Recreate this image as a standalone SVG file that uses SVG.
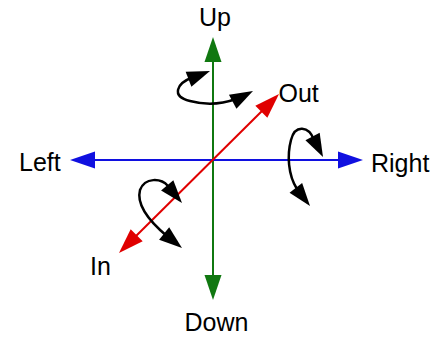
<svg xmlns="http://www.w3.org/2000/svg" xmlns:xlink="http://www.w3.org/1999/xlink" width="448" height="337" viewBox="0 0 448 337">
<style>
.lbl{font-family:"Liberation Sans",Arial,sans-serif;font-size:25px;fill:#000}
.ax{fill:none;stroke-width:2}
.rot{fill:none;stroke:#000;stroke-width:2.5}
</style>
<defs>
<path id="hs" d="M0,0 L-25,-8.5 L-25,8.5 Z"/>
<path id="hc" d="M0,0 L-23,-8 L-23,8 Z"/>
</defs>
<rect width="448" height="337" fill="#fff"/>
<g id="connectors">
<g id="axis-vertical">
<line class="ax" x1="213" y1="55" x2="213" y2="282" stroke="#107810"/>
<use xlink:href="#hs" fill="#107810" transform="translate(213,37) rotate(-90)"/>
<use xlink:href="#hs" fill="#107810" transform="translate(213,300) rotate(90)"/>
</g>
<g id="axis-horizontal">
<line class="ax" x1="88" y1="160" x2="345" y2="160" stroke="#1010e0"/>
<use xlink:href="#hs" fill="#1010e0" transform="translate(70,160) rotate(180)"/>
<use xlink:href="#hs" fill="#1010e0" transform="translate(363,160)"/>
</g>
<g id="axis-depth">
<line class="ax" x1="265" y1="108" x2="133" y2="239" stroke="#e00000"/>
<use xlink:href="#hs" fill="#e00000" transform="translate(279,94) rotate(-45)"/>
<use xlink:href="#hs" fill="#e00000" transform="translate(119,253) rotate(135)"/>
</g>
<g id="rot-up">
<path class="rot" d="M 191 78 C 178 83, 170 96, 190 101 C 205 105, 222 104, 236 99"/>
<use xlink:href="#hc" transform="translate(210,71) rotate(-21)"/>
<use xlink:href="#hc" transform="translate(253,91) rotate(-28)"/>
</g>
<g id="rot-right">
<path class="rot" d="M 314 140 C 309 126, 295 124, 291 140 C 287 155, 288 175, 297 189"/>
<use xlink:href="#hc" transform="translate(323,157) rotate(63)"/>
<use xlink:href="#hc" transform="translate(310,206) rotate(52)"/>
</g>
<g id="rot-in">
<path class="rot" d="M 168 186 C 161 178, 145 177, 140 190 C 136 205, 150 222, 168 237"/>
<use xlink:href="#hc" transform="translate(182,203) rotate(50)"/>
<use xlink:href="#hc" transform="translate(182,248) rotate(39)"/>
</g>
</g>
<g id="node-up"><text class="lbl" x="215" y="26" text-anchor="middle">Up</text></g>
<g id="node-out"><text class="lbl" x="278.5" y="102">Out</text></g>
<g id="node-right"><text class="lbl" x="371" y="172">Right</text></g>
<g id="node-left"><text class="lbl" x="19" y="171">Left</text></g>
<g id="node-in"><text class="lbl" x="90" y="275">In</text></g>
<g id="node-down"><text class="lbl" x="216.5" y="331" text-anchor="middle">Down</text></g>
</svg>
